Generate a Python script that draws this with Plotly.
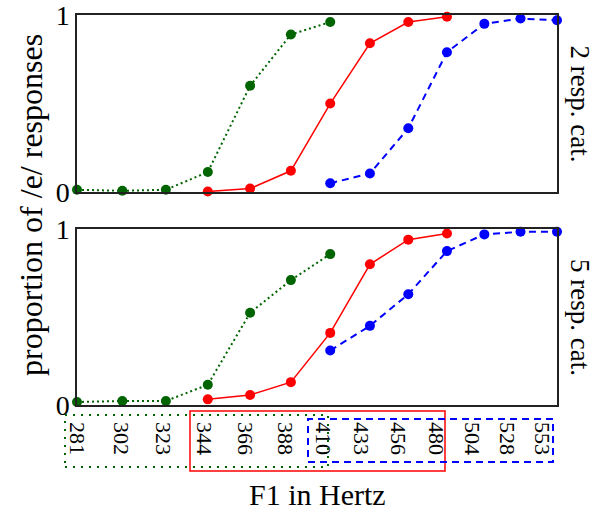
import numpy as np
import plotly.graph_objects as go

# ---- data ----
hz = [281, 302, 323, 344, 366, 388, 410, 433, 456, 480, 504, 528, 553]
tick_labels = [str(h) for h in hz]

green_hz = [281, 302, 323, 344, 366, 388, 410]
red_hz = [344, 366, 388, 410, 433, 456, 480]
blue_hz = [410, 433, 456, 480, 504, 528, 553]

green_2 = [0.013, 0.007, 0.013, 0.113, 0.60, 0.89, 0.96]
red_2 = [0.003, 0.02, 0.12, 0.50, 0.84, 0.96, 0.99]
blue_2 = [0.05, 0.105, 0.36, 0.79, 0.95, 0.98, 0.97]

green_5 = [0.017, 0.023, 0.023, 0.115, 0.524, 0.71, 0.858]
red_5 = [0.032, 0.057, 0.13, 0.41, 0.80, 0.94, 0.975]
blue_5 = [0.31, 0.45, 0.63, 0.875, 0.97, 0.985, 0.985]


def erb(f):
    f = np.asarray(f, dtype=float)
    return 21.4 * np.log10(1 + 0.00437 * f)


FONT = "Liberation Serif, Times New Roman, serif"
GREEN = "#006400"
RED = "#ff0000"
BLUE = "#0000ff"

L, R, T, B = 77, 46, 15, 106
W, H = 603, 511
PW, PH = W - L - R, H - T - B


def px_x(p):
    return (p - L) / PW


def px_y(p):
    return (H - B - p) / PH


fig = go.Figure()

series = [
    (green_hz, green_2, green_5, GREEN, "2px,3px", 2),
    (red_hz, red_2, red_5, RED, "solid", 1.5),
    (blue_hz, blue_2, blue_5, BLUE, "7px,5px", 2),
]
for xs, y2, y5, col, dash, lw in series:
    for yv, xa, ya in [(y2, "x", "y"), (y5, "x2", "y2")]:
        fig.add_trace(go.Scatter(
            x=erb(xs), y=yv, xaxis=xa, yaxis=ya, mode="lines+markers",
            line=dict(color=col, width=lw, dash=dash),
            marker=dict(color=col, size=10),
            cliponaxis=False, showlegend=False, hoverinfo="skip"))

# invisible trace holding the tick-label axis
fig.add_trace(go.Scatter(x=erb(hz), y=[None] * len(hz), xaxis="x3", yaxis="y2",
                         mode="lines", showlegend=False, hoverinfo="skip"))

xr = [float(erb(hz[0])), float(erb(hz[-1]))]
# tick labels sit on a slightly compressed scale (first at 77.5px, last at 542.5px)
p0, p1 = px_x(77.5), px_x(542.5)
scale = (p1 - p0) / (xr[1] - xr[0])
lab_r0 = xr[0] - p0 / scale
lab_r1 = xr[0] + (1 - p0) / scale

ax_common = dict(showgrid=False, zeroline=False, showline=True, linecolor="#222",
                 linewidth=1.5, mirror=True, ticks="", automargin=False)
yax_common = dict(ax_common, range=[0, 1], tickvals=[0, 1], ticktext=["0", "1"],
                  ticklabeloverflow="allow",
                  tickfont=dict(family=FONT, size=28, color="black"))

fig.update_layout(
    width=W, height=H,
    margin=dict(l=L, r=R, t=T, b=B, autoexpand=False),
    paper_bgcolor="white", plot_bgcolor="white",
    font=dict(family=FONT, color="black"),
    xaxis=dict(ax_common, domain=[0, 1], range=xr, anchor="y", showticklabels=False),
    yaxis=dict(yax_common, domain=[0.546, 1], anchor="x"),
    xaxis2=dict(ax_common, domain=[0, 1], range=xr, anchor="y2", showticklabels=False),
    yaxis2=dict(yax_common, domain=[0, 0.451], anchor="x2"),
    xaxis3=dict(overlaying="x2", anchor="y2", side="bottom", range=[lab_r0, lab_r1],
                showline=False, showgrid=False, zeroline=False, ticks="",
                automargin=False, ticklabeloverflow="allow",
                tickvals=list(erb(hz)), ticktext=tick_labels, tickangle=90,
                ticklabelstandoff=16,
                tickfont=dict(family=FONT, size=22, color="black")),
)

# tick label boxes
fig.add_shape(type="rect", xref="paper", yref="paper",
              x0=px_x(65), x1=px_x(328), y0=px_y(467), y1=px_y(415),
              line=dict(color=GREEN, width=2, dash="2px,6px"))
fig.add_shape(type="rect", xref="paper", yref="paper",
              x0=px_x(190), x1=px_x(445), y0=px_y(471), y1=px_y(411),
              line=dict(color=RED, width=1.5))
fig.add_shape(type="rect", xref="paper", yref="paper",
              x0=px_x(308), x1=px_x(553), y0=px_y(462), y1=px_y(419),
              line=dict(color=BLUE, width=2, dash="7px,5px"))

fig.add_annotation(text="proportion of /e/ responses", xref="paper", yref="paper",
                   x=px_x(31), y=px_y(205), xanchor="center", yanchor="middle",
                   textangle=-90, showarrow=False, font=dict(family=FONT, size=32))
fig.add_annotation(text="F1 in Hertz", xref="paper", yref="paper",
                   x=0.5, y=px_y(494), xanchor="center", yanchor="middle",
                   showarrow=False, font=dict(family=FONT, size=30))
fig.add_annotation(text="2 resp. cat.", xref="paper", yref="paper",
                   x=px_x(580), y=(0.546 + 1) / 2, xanchor="center", yanchor="middle",
                   textangle=90, showarrow=False, font=dict(family=FONT, size=27))
fig.add_annotation(text="5 resp. cat.", xref="paper", yref="paper",
                   x=px_x(580), y=0.451 / 2, xanchor="center", yanchor="middle",
                   textangle=90, showarrow=False, font=dict(family=FONT, size=27))

fig.write_html("out.html")
